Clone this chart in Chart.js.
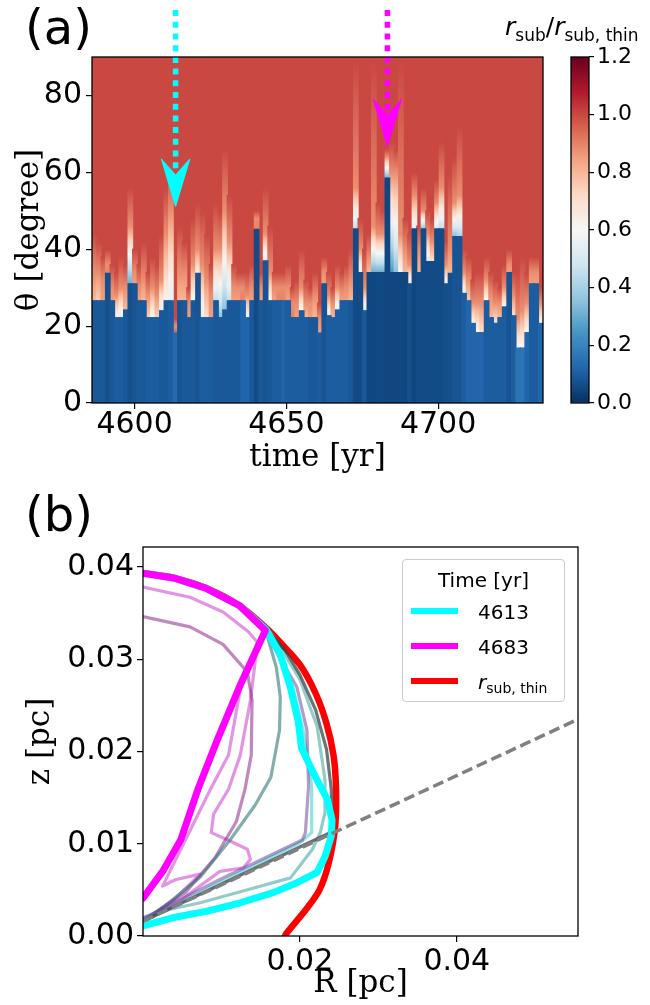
<!DOCTYPE html>
<html>
<head>
<meta charset="utf-8">
<title>r_sub map and profiles</title>
<script src="https://cdn.jsdelivr.net/npm/chart.js@4.4.1/dist/chart.umd.min.js"></script>
<style>
  body { margin: 0; background: #fff; }
  #fig { position: relative; width: 650px; height: 1005px; overflow: hidden; font-family: "DejaVu Sans", sans-serif; color: #000; }
  #fig canvas { position: absolute; }
  .txt { position: absolute; white-space: nowrap; line-height: 1; }
  .panel { font-size: 48px; }
  #cbLabel { left: 505px; top: 14px; font-size: 25px; }
  #cbLabel sub { font-size: 17px; vertical-align: -6px; line-height: 0; }
  #legend { position: absolute; left: 402px; top: 559px; width: 163px; height: 143px; box-sizing: border-box;
            border: 1px solid #cccccc; border-radius: 4px; background: rgba(255,255,255,0.8); font-size: 20px; }
  #legend .ttl { position: absolute; left: 0; right: 0; top: 8px; text-align: center; }
  #legend .row { position: absolute; left: 8px; width: 150px; height: 24px; }
  #legend .sw { position: absolute; left: 0; top: 9px; width: 47px; height: 6px; }
  #legend .lab { position: absolute; left: 67px; top: 1px; }
  #legend .lab sub { font-size: 14px; vertical-align: -4px; line-height: 0; }
</style>
</head>
<body>
<div id="fig">
  <canvas id="heat" width="560" height="490" style="left:0;top:0"></canvas>
  <canvas id="cbar" width="90" height="470" style="left:560px;top:0"></canvas>
  <canvas id="prof" width="650" height="505" style="left:0;top:500px"></canvas>
  <div class="txt panel" style="left:25px;top:3px">(a)</div>
  <div class="txt panel" style="left:25px;top:490px">(b)</div>
  <div class="txt" id="cbLabel"><i>r</i><sub>sub</sub>/<i>r</i><sub>sub, thin</sub></div>
  <div id="legend">
    <div class="ttl">Time [yr]</div>
    <div class="row" style="top:39px"><div class="sw" style="background:#00ffff"></div><div class="lab">4613</div></div>
    <div class="row" style="top:74px"><div class="sw" style="background:#ff00ff"></div><div class="lab">4683</div></div>
    <div class="row" style="top:109px"><div class="sw" style="background:#ff0000"></div><div class="lab"><i>r</i><sub>sub, thin</sub></div></div>
  </div>
</div>
<script>
// ---- panel (a): r_sub / r_sub,thin as a function of time and theta ----
// time columns: first column edge and column width (yr)
const T_START = 4585.96;
const T_STEP = 1.486;

// theta (deg) where the dark blue (shadowed) part ends, per time column
const edgeTheta = [
  26.6, 26.6, 26.6, 33.7, 26.6, 22.2, 22.2, 24.2, 31.0, 31.0,
  26.6, 26.6, 22.2, 22.2, 22.2, 24.0, 26.6, 26.6, 18.2, 26.6,
  26.6, 22.2, 26.6, 33.7, 22.2, 22.2, 22.2, 26.6, 22.2, 24.2,
  26.6, 26.6, 26.6, 26.6, 22.2, 26.6, 45.2, 26.6, 37.0, 26.6,
  26.6, 26.6, 26.6, 26.6, 22.2, 22.2, 24.0, 22.2, 22.2, 22.2,
  18.2, 31.0, 22.7, 22.2, 24.2, 26.6, 26.6, 26.6, 45.3, 33.9,
  24.0, 33.9, 33.9, 33.9, 33.9, 58.5, 33.9, 33.9, 33.9, 33.9,
  31.0, 45.3, 33.9, 45.3, 36.8, 36.8, 45.3, 45.3, 31.0, 33.7,
  43.3, 43.3, 28.5, 26.6, 20.7, 18.3, 18.3, 26.6, 22.2, 20.7,
  22.2, 25.0, 33.9, 22.7, 14.3, 14.3, 18.3, 31.0, 31.0, 20.7
];
// ratio just above that edge
const lowValue = [
  0.80, 0.75, 0.85, 0.90, 0.85, 0.60, 0.55, 0.80, 0.30, 0.85,
  0.85, 0.80, 0.75, 0.60, 0.75, 0.55, 0.62, 0.55, 0.95, 0.80,
  0.80, 0.85, 0.60, 0.65, 0.55, 0.70, 0.85, 0.45, 0.35, 0.35,
  0.45, 0.85, 0.85, 0.90, 0.60, 0.85, 0.90, 0.85, 0.50, 0.60,
  0.85, 0.90, 0.90, 0.85, 0.90, 0.85, 0.60, 0.80, 0.85, 0.80,
  0.85, 0.85, 0.55, 0.80, 0.55, 0.85, 0.85, 0.80, 0.45, 0.55,
  0.55, 0.80, 0.30, 0.30, 0.30, 0.30, 0.25, 0.35, 0.60, 0.80,
  0.55, 0.55, 0.80, 0.35, 0.50, 0.70, 0.50, 0.45, 0.60, 0.80,
  0.35, 0.40, 0.55, 0.75, 0.60, 0.60, 0.70, 0.60, 0.80, 0.70,
  0.80, 0.60, 0.85, 0.70, 0.60, 0.60, 0.60, 0.85, 0.85, 0.60
];
// theta where the column turns salmon (ratio ~0.88)
const topTheta = [
  34, 34, 32, 36, 30, 28, 30, 30, 46, 34,
  30, 32, 28, 30, 28, 32, 44, 50, 20, 34,
  34, 26, 36, 40, 36, 32, 28, 40, 40, 50,
  42, 30, 30, 30, 28, 30, 48, 30, 44, 34,
  30, 30, 30, 30, 26, 26, 30, 26, 26, 28,
  22, 34, 28, 26, 30, 29, 30, 32, 56, 40,
  30, 38, 46, 44, 44, 64, 60, 60, 44, 40,
  36, 54, 40, 50, 44, 42, 52, 56, 36, 40,
  52, 54, 34, 32, 26, 26, 26, 32, 28, 26,
  26, 30, 36, 28, 22, 24, 26, 34, 34, 26
];
// theta where the column is back to the full red (ratio ~1)
const tailTheta = [
  44, 42, 38, 40, 36, 34, 38, 36, 56, 40,
  36, 42, 34, 38, 36, 44, 56, 62, 22, 46,
  42, 30, 48, 52, 50, 44, 36, 52, 50, 66,
  54, 36, 34, 34, 34, 36, 50, 34, 56, 46,
  34, 34, 34, 36, 30, 32, 40, 32, 30, 34,
  26, 38, 34, 30, 36, 34, 36, 40, 89, 48,
  40, 44, 89, 52, 50, 66, 68, 66, 89, 48,
  44, 60, 46, 56, 50, 48, 58, 68, 42, 60,
  64, 72, 40, 38, 32, 34, 34, 38, 34, 32,
  30, 36, 40, 34, 34, 38, 34, 38, 38, 30
];
// ratio inside the shadowed part
const blueValue = [
  0.09, 0.09, 0.09, 0.07, 0.09, 0.10, 0.10, 0.09, 0.07, 0.08,
  0.09, 0.09, 0.10, 0.10, 0.10, 0.09, 0.09, 0.10, 0.13, 0.08,
  0.09, 0.09, 0.09, 0.08, 0.10, 0.10, 0.10, 0.09, 0.09, 0.09,
  0.09, 0.09, 0.09, 0.12, 0.12, 0.09, 0.06, 0.09, 0.08, 0.09,
  0.10, 0.10, 0.11, 0.10, 0.10, 0.10, 0.10, 0.10, 0.09, 0.09,
  0.10, 0.08, 0.10, 0.10, 0.10, 0.10, 0.10, 0.09, 0.06, 0.06,
  0.09, 0.05, 0.05, 0.055, 0.055, 0.05, 0.05, 0.05, 0.05, 0.05,
  0.07, 0.05, 0.06, 0.06, 0.06, 0.06, 0.06, 0.06, 0.07, 0.07,
  0.08, 0.08, 0.10, 0.12, 0.12, 0.12, 0.12, 0.10, 0.10, 0.10,
  0.10, 0.10, 0.08, 0.10, 0.16, 0.16, 0.12, 0.10, 0.10, 0.12
];
const RED_VALUE = 1.0;
const STREAK_VALUE = 0.88;

const timeTicks = [4600, 4650, 4700];
const thetaTicks = [0, 20, 40, 60, 80];
const cbarTicks = [0, 0.2, 0.4, 0.6, 0.8, 1.0, 1.2];

// the two marked snapshots
const arrowTimes = [4613.5, 4683.3];
const arrowTipTheta = [51.1, 66.7];
const arrowColors = ['#00ffff', '#ff00ff'];

// ---- panel (b): r_sub(theta) in the R-z plane, [R, z] in pc ----
const outerArc = [[0, 0.0393], [0.0039, 0.0388], [0.0080, 0.0377], [0.0123, 0.0358]];
const rSubThin = [[0, 0.0393], [0.0039, 0.0388], [0.0080, 0.0377], [0.0123, 0.0358], [0.0158, 0.0333],
  [0.0175, 0.0318], [0.0200, 0.0294], [0.0220, 0.0263], [0.0234, 0.0230], [0.0243, 0.0195],
  [0.0246, 0.0160], [0.0245, 0.0119], [0.0237, 0.0080], [0.0225, 0.0050], [0.0208, 0.0029],
  [0.0183, 0.0003], [0.0180, -0.0002]];
const t4683 = [[0, 0.0393], [0.0039, 0.0388], [0.0080, 0.0377], [0.0123, 0.0358], [0.0156, 0.0331],
  [0.0124, 0.0272], [0.0095, 0.0213], [0.0070, 0.0159], [0.0048, 0.0104], [0.0025, 0.0070], [0, 0.0041]];
const t4613 = [[0, 0.0393], [0.0039, 0.0388], [0.0080, 0.0377], [0.0123, 0.0358], [0.0157, 0.0332],
  [0.0175, 0.0305], [0.0188, 0.0269], [0.0198, 0.0232], [0.0202, 0.0204], [0.0217, 0.0177],
  [0.0235, 0.0148], [0.0241, 0.0126], [0.0240, 0.0108], [0.0232, 0.0086], [0.0222, 0.0069],
  [0.0197, 0.0058], [0.0166, 0.0047], [0.0124, 0.0036], [0.0082, 0.0027], [0.0039, 0.0020], [0, 0.0011]];
// intermediate snapshots (drawn thin and half transparent)
const midDark = [[0.0157, 0.0332], [0.0181, 0.0310], [0.0200, 0.0283], [0.0220, 0.0245], [0.0234, 0.0202],
  [0.0240, 0.0159], [0.0241, 0.0113], [0, 0.0016]];
const midTealA = [[0.0157, 0.0332], [0.0162, 0.0324], [0.0191, 0.0270], [0.0204, 0.0224], [0.0215, 0.0162],
  [0.0215, 0.0112], [0.0200, 0.0101], [0, 0.0016]];
const midTealB = [[0.0157, 0.0332], [0.0164, 0.0328], [0.0200, 0.0278], [0.0222, 0.0227], [0.0232, 0.0169],
  [0.0232, 0.0134], [0.0226, 0.0112], [0.0216, 0.0094], [0.0188, 0.0063], [0.0124, 0.0048],
  [0.0073, 0.0036], [0.0035, 0.0029], [0, 0.0020]];
const midPurpleB = [[0.0157, 0.0332], [0.0166, 0.0314], [0.0196, 0.0270], [0.0209, 0.0223], [0.0211, 0.0162],
  [0.0207, 0.0112], [0.0203, 0.0104], [0.0100, 0.0062], [0, 0.0019]];
const midCadet = [[0.0156, 0.0332], [0.0170, 0.0291], [0.0175, 0.0259], [0.0174, 0.0223], [0.0163, 0.0172],
  [0.0143, 0.0142], [0.0111, 0.0104], [0.0073, 0.0064], [0.0039, 0.0040], [0, 0.0015]];
const midOrchidA = [[0, 0.0378], [0.0060, 0.0367], [0.0102, 0.0351], [0.0134, 0.0330], [0.0146, 0.0318],
  [0.0124, 0.0267], [0.0109, 0.0196], [0.0086, 0.0159], [0.0054, 0.0104], [0.0025, 0.0054],
  [0.0041, 0.0061], [0.0073, 0.0067], [0.0040, 0.0040], [0, 0.0014]];
const midOrchidB = [[0.0146, 0.0318], [0.0137, 0.0256], [0.0124, 0.0196], [0.0109, 0.0159], [0.0090, 0.0132],
  [0.0087, 0.0112], [0.0111, 0.0103], [0.0133, 0.0094], [0.0137, 0.0083], [0.0128, 0.0074],
  [0.0098, 0.0070], [0.0050, 0.0040], [0, 0.0015]];
const midPurpleA = [[0, 0.0346], [0.0060, 0.0335], [0.0102, 0.0316], [0.0133, 0.0286], [0.0139, 0.0256],
  [0.0138, 0.0196], [0.0130, 0.0159], [0.0119, 0.0124], [0.0092, 0.0085], [0.0054, 0.0047], [0, 0.0017]];
const thetaLine = [[0, 0.0016], [0.0560, 0.0237]];

const rTicks = [0.02, 0.04];
const zTicks = [0, 0.01, 0.02, 0.03, 0.04];

// RdBu_r, vmin 0, vmax 1.2
const RDBU_R = ['#053061', '#2166ac', '#4393c3', '#92c5de', '#d1e5f0', '#f7f7f7',
  '#fddbc7', '#f4a582', '#d6604d', '#b2182b', '#67001f'];

Chart.defaults.font.family = '"DejaVu Sans", sans-serif';
Chart.defaults.color = '#000';

function hexToRgb(h) {
  return [1, 3, 5].map(k => parseInt(h.substr(k, 2), 16));
}

function cmap(v) {
  const t = Math.min(1, Math.max(0, v / 1.2)) * 10;
  const k = Math.min(9, Math.floor(t));
  const f = t - k;
  const a = hexToRgb(RDBU_R[k]), b = hexToRgb(RDBU_R[k + 1]);
  const c = a.map((x, j) => Math.round(x + (b[j] - x) * f));
  return `rgb(${c[0]},${c[1]},${c[2]})`;
}

// black box round the plotting area, like matplotlib spines
const framePlugin = {
  id: 'frame',
  afterDatasetsDraw(chart) {
    const { ctx, chartArea: a } = chart;
    ctx.save();
    ctx.strokeStyle = '#000';
    ctx.lineWidth = 1.3;
    ctx.strokeRect(a.left, a.top, a.right - a.left, a.bottom - a.top);
    ctx.restore();
  }
};

function fixedTicks(values) {
  return scale => { scale.ticks = values.map(v => ({ value: v })); };
}

function tickGrid(len) {
  return { drawOnChartArea: false, offset: false, color: '#000', lineWidth: 1.2, tickLength: len, tickWidth: 1.2 };
}

// salmon/white streak above the shadow edge of one column
function rampFill(context) {
  const chart = context.chart;
  const i = context.dataIndex;
  if (!chart.chartArea || i === undefined) return cmap(RED_VALUE);
  const y = chart.scales.y;
  const y0 = y.getPixelForValue(edgeTheta[i]);
  const y1 = y.getPixelForValue(tailTheta[i]);
  const g = chart.ctx.createLinearGradient(0, y0, 0, y1);
  const split = (topTheta[i] - edgeTheta[i]) / (tailTheta[i] - edgeTheta[i]);
  for (let k = 0; k <= 4; k++) {
    g.addColorStop(split * k / 4, cmap(lowValue[i] + (STREAK_VALUE - lowValue[i]) * k / 4));
  }
  g.addColorStop(1, cmap(RED_VALUE));
  return g;
}

function drawHeatmap() {
  const times = edgeTheta.map((_, i) => (T_START + T_STEP * (i + 0.5)).toFixed(2));
  // inflate a little so neighbouring columns leave no light seams
  const barCommon = { grouped: false, barPercentage: 1, categoryPercentage: 1, borderWidth: 0, inflateAmount: 0.6, xAxisID: 'x', yAxisID: 'y' };

  const datasets = [
    Object.assign({ type: 'bar', label: 'ratio > thin', data: times.map(() => [0, 90]), backgroundColor: cmap(RED_VALUE), order: 5 }, barCommon),
    Object.assign({ type: 'bar', label: 'transition', data: edgeTheta.map((e, i) => [e, tailTheta[i]]), backgroundColor: rampFill, order: 4 }, barCommon),
    Object.assign({ type: 'bar', label: 'shadowed', data: edgeTheta.map(e => [0, e]), backgroundColor: blueValue.map(cmap), order: 3 }, barCommon)
  ];

  // dotted arrows that mark the two snapshots of panel (b)
  arrowTimes.forEach((t, k) => {
    const tip = arrowTipTheta[k];
    datasets.push({
      type: 'line', label: 'arrow shaft ' + k, xAxisID: 'xt', yAxisID: 'y', order: 1,
      data: [{ x: t, y: 102.2 }, { x: t, y: tip + 8.5 }],
      borderColor: arrowColors[k], borderWidth: 5.5, borderDash: [6, 5.7], borderCapStyle: 'butt',
      pointRadius: 0, clip: false
    });
    datasets.push({
      type: 'line', label: 'arrow head ' + k, xAxisID: 'xt', yAxisID: 'y', order: 0,
      data: [{ x: t - 4.7, y: tip + 12.4 }, { x: t, y: tip }, { x: t + 4.7, y: tip + 12.4 },
             { x: t, y: tip + 8.2 }, { x: t - 4.7, y: tip + 12.4 }],
      borderColor: arrowColors[k], backgroundColor: arrowColors[k], borderWidth: 1, fill: 'shape',
      pointRadius: 0, clip: false
    });
  });

  new Chart(document.getElementById('heat'), {
    type: 'bar',
    data: { labels: times, datasets: datasets },
    options: {
      responsive: false,
      animation: false,
      devicePixelRatio: 1,
      events: [],
      layout: { padding: { left: 0, right: 17, top: 57, bottom: 0 } },
      plugins: { legend: { display: false }, tooltip: { enabled: false } },
      scales: {
        x: { type: 'category', display: false, offset: true },
        xt: {
          type: 'linear', position: 'bottom', offset: false,
          min: T_START, max: T_START + T_STEP * edgeTheta.length,
          afterBuildTicks: fixedTicks(timeTicks),
          afterFit: s => { s.height = 87; },
          ticks: { font: { size: 30 }, padding: -2, maxRotation: 0, callback: v => String(v) },
          grid: tickGrid(6), border: { display: false },
          title: { display: true, text: 'time [yr]', font: { family: '"DejaVu Serif", serif', size: 31 }, padding: { bottom: 13 } }
        },
        y: {
          min: 0, max: 90,
          afterBuildTicks: fixedTicks(thetaTicks),
          afterFit: s => { s.width = 92; },
          ticks: { font: { size: 30 }, padding: 4, callback: v => String(v) },
          grid: tickGrid(6), border: { display: false },
          title: { display: true, text: 'θ [degree]', font: { family: '"DejaVu Serif", serif', size: 31 }, padding: { top: 11 } }
        }
      }
    },
    plugins: [framePlugin]
  });
}

function cbarFill(context) {
  const chart = context.chart;
  if (!chart.chartArea) return cmap(0.6);
  const y = chart.scales.y;
  const g = chart.ctx.createLinearGradient(0, y.getPixelForValue(0), 0, y.getPixelForValue(1.2));
  RDBU_R.forEach((c, k) => g.addColorStop(k / 10, c));
  return g;
}

function drawColorbar() {
  new Chart(document.getElementById('cbar'), {
    type: 'bar',
    data: { labels: ['ratio'], datasets: [{ label: 'colour scale', data: [[0, 1.2]], backgroundColor: cbarFill, barPercentage: 1, categoryPercentage: 1, borderWidth: 0 }] },
    options: {
      responsive: false,
      animation: false,
      devicePixelRatio: 1,
      events: [],
      layout: { padding: { left: 11, right: 0, top: 57, bottom: 67 } },
      plugins: { legend: { display: false }, tooltip: { enabled: false } },
      scales: {
        x: { display: false },
        y: {
          position: 'right', min: 0, max: 1.2,
          afterBuildTicks: fixedTicks(cbarTicks),
          afterFit: s => { s.width = 61; },
          ticks: { font: { size: 22 }, padding: 3, callback: v => v.toFixed(1) },
          grid: tickGrid(5), border: { display: false }
        }
      }
    },
    plugins: [framePlugin]
  });
}

function curve(label, pts, color, width, order, extra) {
  return Object.assign({
    label: label,
    data: pts.map(p => ({ x: p[0], y: p[1] })),
    showLine: true, borderColor: color, borderWidth: width, pointRadius: 0,
    borderJoinStyle: 'round', borderCapStyle: 'round', clip: 0, order: order
  }, extra || {});
}

function drawProfiles() {
  const datasets = [
    curve('theta line', thetaLine, '#808080', 3.5, 0, { borderDash: [11, 5], borderCapStyle: 'butt' }),
    curve('4683', t4683, '#ff00ff', 7, 1),
    curve('4613', t4613, '#00ffff', 7, 2),
    curve('mid 1', outerArc.concat(midDark), 'rgba(55,70,70,0.75)', 3.2, 3),
    curve('mid 2', outerArc.concat(midPurpleB), 'rgba(100,60,150,0.5)', 3.2, 4),
    curve('mid 3', outerArc.concat(midTealA), 'rgba(40,200,200,0.5)', 3.2, 5),
    curve('mid 4', outerArc.concat(midTealB), 'rgba(60,160,160,0.55)', 3.2, 6),
    curve('mid 5', outerArc.concat(midCadet), 'rgba(50,120,120,0.6)', 3.2, 7),
    curve('mid 6', midPurpleA, 'rgba(128,20,128,0.5)', 3.2, 8),
    curve('mid 7', midOrchidB, 'rgba(205,60,205,0.55)', 3.2, 9),
    curve('mid 8', midOrchidA, 'rgba(205,60,205,0.55)', 3.2, 10),
    curve('r_sub,thin', rSubThin, '#ff0000', 6.5, 20, { tension: 0.3 })
  ];

  new Chart(document.getElementById('prof'), {
    type: 'scatter',
    data: { datasets: datasets },
    options: {
      responsive: false,
      animation: false,
      devicePixelRatio: 1,
      events: [],
      layout: { padding: { left: 0, right: 72, top: 47, bottom: 0 } },
      plugins: { legend: { display: false }, tooltip: { enabled: false } },
      scales: {
        x: {
          type: 'linear', min: 0, max: 0.05545,
          afterBuildTicks: fixedTicks(rTicks),
          afterFit: s => { s.height = 69; },
          ticks: { font: { size: 30 }, padding: 2, maxRotation: 0, callback: v => v.toFixed(2) },
          grid: tickGrid(6), border: { display: false },
          title: { display: true, text: 'R [pc]', font: { family: '"DejaVu Serif", serif', size: 31 }, padding: { bottom: 2 } }
        },
        y: {
          min: 0, max: 0.04215,
          afterBuildTicks: fixedTicks(zTicks),
          afterFit: s => { s.width = 143; },
          ticks: { font: { size: 30 }, padding: 3, callback: v => v.toFixed(2) },
          grid: tickGrid(6), border: { display: false },
          title: { display: true, text: 'z [pc]', font: { family: '"DejaVu Serif", serif', size: 31 }, padding: { top: 22 } }
        }
      }
    },
    plugins: [framePlugin]
  });
}

document.addEventListener('DOMContentLoaded', () => {
  drawHeatmap();
  drawColorbar();
  drawProfiles();
});
</script>
</body>
</html>
